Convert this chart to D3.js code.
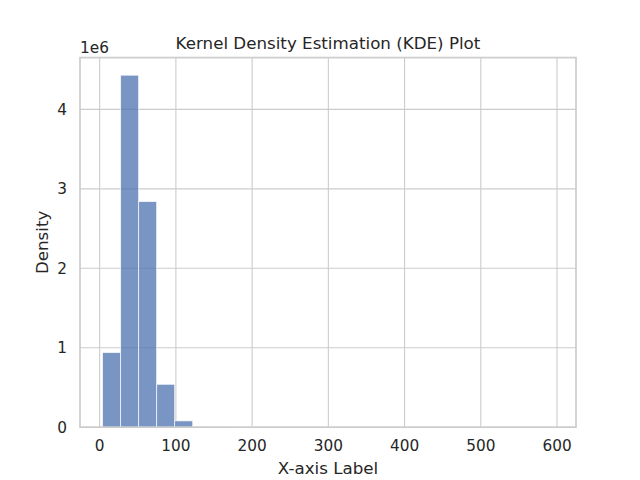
<!DOCTYPE html>
<html lang="en">
<head>
  <meta charset="UTF-8">
  <title>Kernel Density Estimation (KDE) Plot</title>
  <script src="https://d3js.org/d3.v7.min.js"></script>
  <style>
    body { margin: 0; background: #fff; }
    svg { display: block; font-family: "DejaVu Sans", sans-serif; }
    .grid line { stroke: #cccccc; stroke-width: 1.1px; }
    .tick-label { font-size: 15.3px; fill: #262626; }
    .axis-label { font-size: 16.7px; fill: #262626; }
    .bar { fill: #4c72b0; fill-opacity: 0.75; stroke: #ffffff; stroke-opacity: 0.75; stroke-width: 0.9px; }
    .spine { fill: none; stroke: #cccccc; stroke-width: 1.7px; }
  </style>
</head>
<body>
  <svg id="chart"></svg>

  <script>
    // histogram bin edges (x)
    const binEdges = [3.8, 27.46, 51.12, 74.78, 98.44, 122.1, 145.76, 169.42, 193.08, 216.74,
      240.4, 264.06, 287.72, 311.38, 335.04, 358.7, 382.36, 406.02, 429.68, 453.34,
      477.0, 500.66, 524.32, 547.98, 571.64, 595.3];
    // density per bin
    const densities = [940000, 4430000, 2840000, 540000, 80000, 8000, 3000, 1000, 0, 0,
      0, 0, 0, 0, 0, 0, 0, 0, 0, 0,
      0, 0, 0, 0, 300];
    const xTicks = [0, 100, 200, 300, 400, 500, 600];
    const yTicks = [0, 1, 2, 3, 4];   // shown as multiples of 1e6

    const width = 640, height = 480;
    const margin = { left: 80, right: 64, top: 57.6, bottom: 52.8 };
    const plotW = width - margin.left - margin.right;
    const plotH = height - margin.top - margin.bottom;

    const svg = d3.select("#chart")
      .attr("width", width)
      .attr("height", height);

    const xMin = binEdges[0], xMax = binEdges[binEdges.length - 1];
    const xPad = (xMax - xMin) * 0.05;
    const x = d3.scaleLinear()
      .domain([xMin - xPad, xMax + xPad])
      .range([margin.left, margin.left + plotW]);

    const yMax = d3.max(densities) * 1.05;
    const y = d3.scaleLinear()
      .domain([0, yMax])
      .range([margin.top + plotH, margin.top]);

    // grid
    const grid = svg.append("g").attr("class", "grid");
    grid.selectAll(".vx")
      .data(xTicks)
      .enter().append("line")
      .attr("x1", d => x(d)).attr("x2", d => x(d))
      .attr("y1", margin.top).attr("y2", margin.top + plotH);
    grid.selectAll(".hy")
      .data(yTicks)
      .enter().append("line")
      .attr("x1", margin.left).attr("x2", margin.left + plotW)
      .attr("y1", d => y(d * 1e6)).attr("y2", d => y(d * 1e6));

    // bars
    const bins = densities.map((v, i) => ({ x0: binEdges[i], x1: binEdges[i + 1], v: v }));
    svg.append("g")
      .selectAll("rect")
      .data(bins.filter(d => d.v > 0))
      .enter().append("rect")
      .attr("class", "bar")
      .attr("x", d => x(d.x0))
      .attr("width", d => x(d.x1) - x(d.x0))
      .attr("y", d => y(d.v))
      .attr("height", d => y(0) - y(d.v));

    // spines
    svg.append("rect")
      .attr("class", "spine")
      .attr("x", margin.left)
      .attr("y", margin.top)
      .attr("width", plotW)
      .attr("height", plotH);

    // tick labels
    svg.append("g")
      .selectAll("text")
      .data(xTicks)
      .enter().append("text")
      .attr("class", "tick-label")
      .attr("text-anchor", "middle")
      .attr("x", d => x(d))
      .attr("y", margin.top + plotH + 24)
      .text(d => d);

    svg.append("g")
      .selectAll("text")
      .data(yTicks)
      .enter().append("text")
      .attr("class", "tick-label")
      .attr("text-anchor", "end")
      .attr("x", margin.left - 13)
      .attr("y", d => y(d * 1e6) + 5.5)
      .text(d => d);

    // offset label
    svg.append("text")
      .attr("class", "tick-label")
      .attr("x", margin.left)
      .attr("y", margin.top - 5)
      .text("1e6");

    // axis labels and title
    svg.append("text")
      .attr("class", "axis-label")
      .attr("text-anchor", "middle")
      .attr("x", margin.left + plotW / 2)
      .attr("y", 474)
      .text("X-axis Label");

    svg.append("text")
      .attr("class", "axis-label")
      .attr("text-anchor", "middle")
      .attr("transform", `translate(48,${margin.top + plotH / 2}) rotate(-90)`)
      .text("Density");

    svg.append("text")
      .attr("class", "axis-label")
      .attr("text-anchor", "middle")
      .attr("x", margin.left + plotW / 2)
      .attr("y", margin.top - 9)
      .text("Kernel Density Estimation (KDE) Plot");
  </script>
</body>
</html>
